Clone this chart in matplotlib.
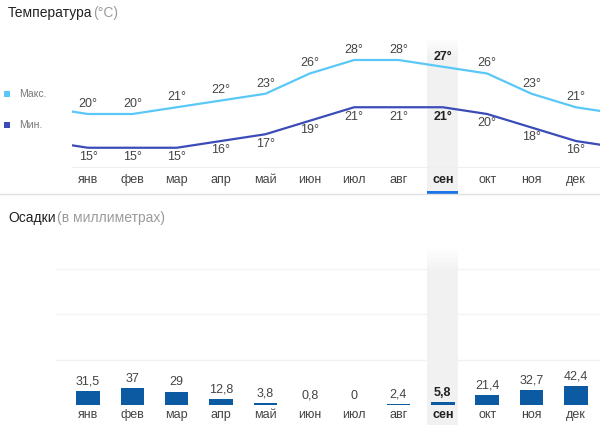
import matplotlib
matplotlib.use("Agg")
import matplotlib.pyplot as plt
from matplotlib.patches import Rectangle
import numpy as np

plt.rcParams['font.family'] = ['Liberation Sans', 'DejaVu Sans']

months = ["янв", "фев", "мар", "апр", "май", "июн", "июл", "авг", "сен", "окт", "ноя", "дек"]
t_max = [20, 20, 21, 22, 23, 26, 28, 28, 27, 26, 23, 21]
t_min = [15, 15, 15, 16, 17, 19, 21, 21, 21, 20, 18, 16]
precip = [31.5, 37, 29, 12.8, 3.8, 0.8, 0, 2.4, 5.8, 21.4, 32.7, 42.4]
current = 8  # сен

W, H = 600, 425
fig = plt.figure(figsize=(6, 4.25), dpi=100)

def px_axes(x0, y0, x1, y1):
    return fig.add_axes([x0 / W, 1 - y1 / H, (x1 - x0) / W, (y1 - y0) / H])

C_MAX = "#5ac8f7"
C_MIN = "#3b4cb8"
C_BAR = "#0b5aa2"
C_TXT = "#444444"
C_COL = "#f1f1f1"
FS = 9

step = 44.35
x0_px = 88
def xlim_for(left_px, right_px):
    return ((left_px - x0_px) / step, (right_px - x0_px) / step)

def column(a, y_top_px, y_bot_px, ax_top_px, ax_bot_px, fade_px=20):
    h = ax_bot_px - ax_top_px
    def fr(ypx):
        return (ax_bot_px - ypx) / h
    a.axvspan(current - 0.35, current + 0.35, ymin=fr(y_bot_px), ymax=fr(y_top_px + fade_px),
              color=C_COL, clip_on=False, zorder=0, lw=0)
    n = 10
    for k in range(n):
        ya = y_top_px + fade_px * k / n
        yb = y_top_px + fade_px * (k + 1) / n
        a.axvspan(current - 0.35, current + 0.35, ymin=fr(yb), ymax=fr(ya),
                  color=C_COL, alpha=(k + 0.5) / n, clip_on=False, zorder=0, lw=0)

# ---- Temperature ----
ax = px_axes(72, 30, 600, 167)
ax.set_xlim(*xlim_for(72, 600))
pxdeg = 6.75
ax.set_ylim(20 - (167 - 114) / pxdeg, 20 + (114 - 30) / pxdeg)
for s in ax.spines.values():
    s.set_visible(False)
ax.spines['bottom'].set_visible(True)
ax.spines['bottom'].set_color("#eeeeee")
ax.set_yticks([])
x = np.arange(12)
xe = np.concatenate([[-1], x, [12]])
column(ax, 38, 194, 30, 167)
ax.plot(xe, [t_max[-1]] + t_max + [t_max[0]], color=C_MAX, lw=1.6, zorder=3)
ax.plot(xe, [t_min[-1]] + t_min + [t_min[0]], color=C_MIN, lw=1.6, zorder=3)
for i in range(12):
    bold = i == current
    ax.annotate(f"{t_max[i]}°", (i, t_max[i]), xytext=(0, 3), textcoords="offset points",
                ha="center", va="bottom", fontsize=FS, color="#222222" if bold else C_TXT,
                fontweight="bold" if bold else "normal")
    ax.annotate(f"{t_min[i]}°", (i, t_min[i]), xytext=(0, -2.5), textcoords="offset points",
                ha="center", va="top", fontsize=FS, color="#222222" if bold else C_TXT,
                fontweight="bold" if bold else "normal")
ax.set_xticks(x)
ax.set_xticklabels(months, fontsize=FS, color=C_TXT)
ax.tick_params(axis="x", length=0, pad=5)
lab = ax.get_xticklabels()[current]
lab.set_fontweight("bold"); lab.set_color("#222222")

# ---- Precipitation ----
bx = px_axes(56, 248, 600, 405)
bx.set_xlim(*xlim_for(56, 600))
pxmm = 0.455
bx.set_ylim(0, (405 - 248) / pxmm)
for s in bx.spines.values():
    s.set_visible(False)
bx.set_yticks([])
for g in [100, 200, 300]:
    bx.axhline(g, color="#f2f2f2", lw=1, zorder=0)
column(bx, 248, 425, 248, 405, fade_px=25)
bx.bar(x, precip, width=0.53, color=C_BAR, zorder=3)
for i, v in enumerate(precip):
    bold = i == current
    bx.annotate(f"{v:g}".replace(".", ","), (i, v), xytext=(0, 2.5), textcoords="offset points",
                ha="center", va="bottom", fontsize=FS, color="#222222" if bold else C_TXT,
                fontweight="bold" if bold else "normal")
bx.set_xticks(x)
bx.set_xticklabels(months, fontsize=FS, color=C_TXT)
bx.tick_params(axis="x", length=0, pad=3)
lab = bx.get_xticklabels()[current]
lab.set_fontweight("bold"); lab.set_color("#222222")

# ---- Decorations ----
fig.add_artist(plt.Line2D([0, 1], [1 - 194 / H] * 2, color="#e0e0e0", lw=1))
xa = ax.transData.transform([(current - 0.35, 0), (current + 0.35, 0)])
fx = fig.transFigure.inverted().transform(xa)
fig.add_artist(Rectangle((fx[0][0], 1 - 194 / H), fx[1][0] - fx[0][0], 3 / H,
                         color="#1a73e8", lw=0))

fig.text(8 / W, 1 - 13 / H, "Температура", fontsize=10, color="#222222", va="center")
fig.text(93 / W, 1 - 13 / H, "(°C)", fontsize=10, color="#9a9a9a", va="center")
fig.text(8 / W, 1 - 218 / H, "Осадки", fontsize=10, color="#222222", va="center")
fig.text(57 / W, 1 - 218 / H, "(в миллиметрах)", fontsize=10, color="#9a9a9a", va="center")

for yy, c, t in [(94, C_MAX, "Макс."), (125, C_MIN, "Мин.")]:
    fig.add_artist(Rectangle((4 / W, 1 - (yy + 3) / H), 6 / W, 6 / H, color=c, lw=0))
    fig.text(19 / W, 1 - yy / H, t, fontsize=7.5, color="#777777", va="center")

fig.savefig("out.png", dpi=100)
